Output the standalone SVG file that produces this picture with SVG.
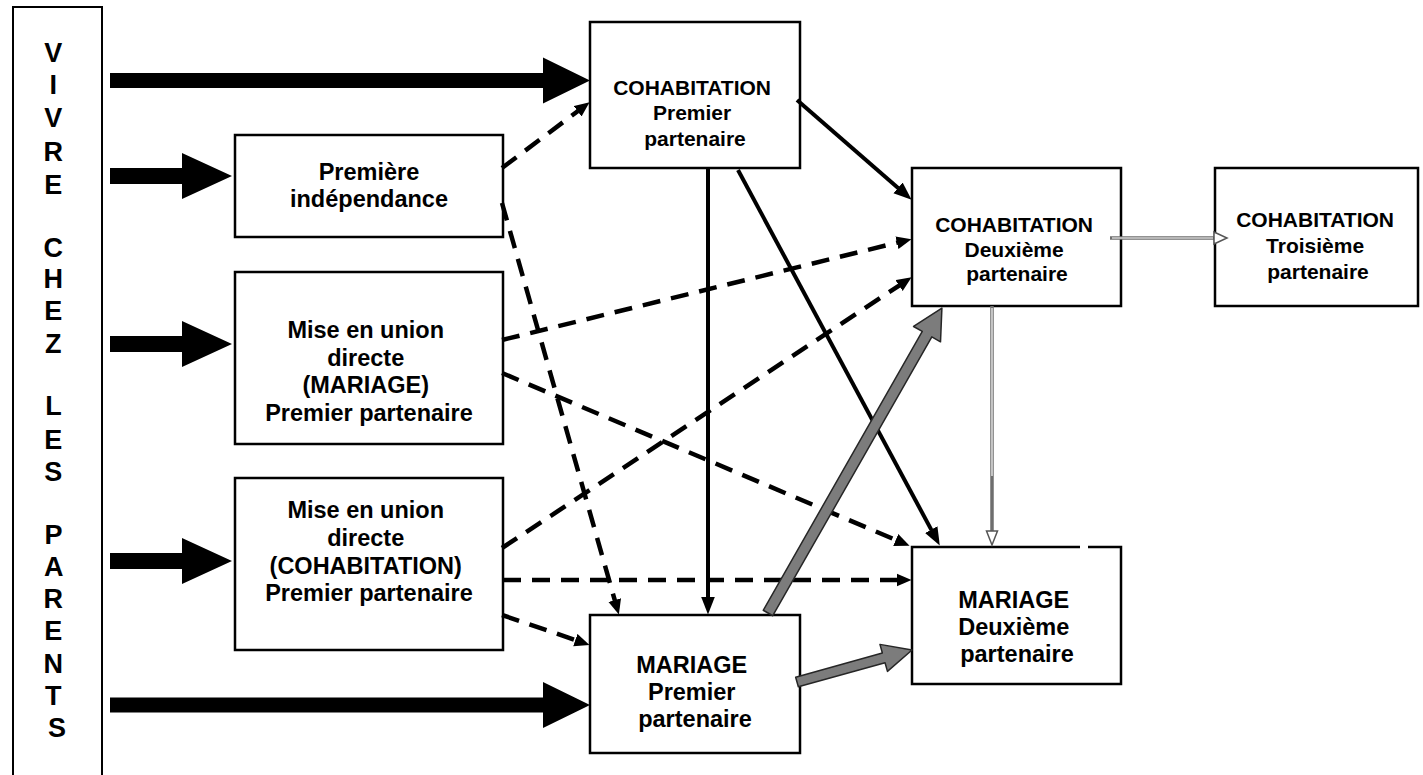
<svg xmlns="http://www.w3.org/2000/svg" width="1423" height="775" viewBox="0 0 1423 775">
  <style>
    .box { fill: #ffffff; stroke: #000000; stroke-width: 2.5; }
    .frame { fill: none; stroke: #000000; stroke-width: 2; }
    text { font-family: "Liberation Sans", Arial, Helvetica, sans-serif; font-weight: bold; fill: #000000; text-anchor: middle; }
    .big { font-size: 23.5px; }
    .mid { font-size: 21px; }
    .side { font-size: 27px; }
    .dash { fill: none; stroke: #000000; stroke-width: 4.5; stroke-dasharray: 18 11; marker-end: url(#headDash); }
    .solid { fill: none; stroke: #000000; stroke-width: 4; marker-end: url(#headSolid); }
    .fat { fill: #000000; }
    .grey { fill: #7c7c7c; stroke: #262626; stroke-width: 1.5; stroke-linejoin: round; }
    .thinOuter { fill: none; stroke: #6e6e6e; stroke-width: 3.5; }
    .thinInner { fill: none; stroke: #ffffff; stroke-width: 1.2; }
    .open { fill: #ffffff; stroke: #555555; stroke-width: 1.5; stroke-linejoin: miter; }
  </style>
  <defs>
    <marker id="headDash" markerUnits="userSpaceOnUse" viewBox="0 -7 16 14" markerWidth="16" markerHeight="14" refX="0.5" refY="0" orient="auto">
      <path d="M0,-6.5 L15,0 L0,6.5 Z" fill="#000000"/>
    </marker>
    <marker id="headSolid" markerUnits="userSpaceOnUse" viewBox="0 -8 19 16" markerWidth="19" markerHeight="16" refX="0.5" refY="0" orient="auto">
      <path d="M0,-7 L18,0 L0,7 Z" fill="#000000"/>
    </marker>
    <!-- block arrows leaving the parental home -->
    <path id="fatShort" d="M0,-8 H72 V-23 L122,0 L72,23 V8 H0 Z"/>
    <path id="fatLong" d="M0,-7.5 H433 V-23 L480,0 L433,23 V7.5 H0 Z"/>
  </defs>

  <rect width="1423" height="775" fill="#ffffff"/>

  <!-- nodes -->
  <g id="parents">
    <path class="frame" d="M13,775 V7 H102 V775"/>
    <text class="side">
      <tspan x="57" y="62">V</tspan>
      <tspan x="57" y="94">I</tspan>
      <tspan x="57" y="127">V</tspan>
      <tspan x="57" y="161">R</tspan>
      <tspan x="57" y="194">E</tspan>
      <tspan x="57" y="257">C</tspan>
      <tspan x="57" y="288">H</tspan>
      <tspan x="57" y="320">E</tspan>
      <tspan x="57" y="353">Z</tspan>
      <tspan x="57" y="415">L</tspan>
      <tspan x="57" y="449">E</tspan>
      <tspan x="57" y="481">S</tspan>
      <tspan x="57" y="544">P</tspan>
      <tspan x="57" y="576">A</tspan>
      <tspan x="57" y="608">R</tspan>
      <tspan x="57" y="640">E</tspan>
      <tspan x="57" y="673">N</tspan>
      <tspan x="57" y="705">T</tspan>
      <tspan x="57" y="737">S</tspan>
    </text>
  </g>

  <g id="independance">
    <rect class="box" x="235" y="135" width="268" height="102"/>
    <text class="big"><tspan x="369" y="180">Première</tspan><tspan x="369" y="207">indépendance</tspan></text>
  </g>

  <g id="union-mariage">
    <rect class="box" x="235" y="272" width="268" height="172"/>
    <text class="big">
      <tspan x="369" y="338">Mise en union</tspan>
      <tspan x="369" y="366">directe</tspan>
      <tspan x="369" y="393">(MARIAGE)</tspan>
      <tspan x="369" y="421">Premier partenaire</tspan>
    </text>
  </g>

  <g id="union-cohabitation">
    <rect class="box" x="235" y="478" width="268" height="172"/>
    <text class="big">
      <tspan x="369" y="518">Mise en union</tspan>
      <tspan x="369" y="546">directe</tspan>
      <tspan x="369" y="574">(COHABITATION)</tspan>
      <tspan x="369" y="601">Premier partenaire</tspan>
    </text>
  </g>

  <g id="cohab-1">
    <rect class="box" x="590" y="22" width="210" height="146"/>
    <text class="mid">
      <tspan x="695" y="95">COHABITATION</tspan>
      <tspan x="695" y="120">Premier</tspan>
      <tspan x="695" y="146">partenaire</tspan>
    </text>
  </g>

  <g id="mariage-1">
    <rect class="box" x="590" y="615" width="210" height="138"/>
    <text class="big">
      <tspan x="695" y="673">MARIAGE</tspan>
      <tspan x="695" y="700">Premier</tspan>
      <tspan x="695" y="727">partenaire</tspan>
    </text>
  </g>

  <g id="cohab-2">
    <rect class="box" x="912" y="168" width="209" height="138"/>
    <text class="mid">
      <tspan x="1017" y="232">COHABITATION</tspan>
      <tspan x="1017" y="257">Deuxième</tspan>
      <tspan x="1017" y="281">partenaire</tspan>
    </text>
  </g>

  <g id="mariage-2">
    <rect x="912" y="547" width="209" height="137" fill="#ffffff"/>
    <path class="box" fill="none" d="M1088,547 H1121 V684 H912 V547 H1080"/>
    <text class="big">
      <tspan x="1017" y="608">MARIAGE</tspan>
      <tspan x="1017" y="635">Deuxième</tspan>
      <tspan x="1017" y="662">partenaire</tspan>
    </text>
  </g>

  <g id="cohab-3">
    <rect class="box" x="1215" y="168" width="203" height="138"/>
    <text class="mid">
      <tspan x="1318" y="227">COHABITATION</tspan>
      <tspan x="1318" y="253">Troisième</tspan>
      <tspan x="1318" y="279">partenaire</tspan>
    </text>
  </g>

  <!-- connectors -->
  <g id="connectors">
    <!-- block arrows -->
    <use href="#fatLong" class="fat" transform="translate(110,80.5)"/>
    <use href="#fatShort" class="fat" transform="translate(110,176)"/>
    <use href="#fatShort" class="fat" transform="translate(110,344)"/>
    <use href="#fatShort" class="fat" transform="translate(110,561)"/>
    <use href="#fatLong" class="fat" transform="translate(110,705)"/>

    <!-- dashed transitions -->
    <line class="dash" x1="502" y1="168" x2="578" y2="111"/>
    <line class="dash" x1="502" y1="203" x2="614.9" y2="600.6"/>
    <line class="dash" x1="502" y1="340" x2="897.4" y2="242.6"/>
    <line class="dash" x1="502" y1="373" x2="896.2" y2="540.1"/>
    <line class="dash" x1="502" y1="548" x2="899.5" y2="285.3"/>
    <line class="dash" x1="503" y1="580" x2="897" y2="580"/>
    <line class="dash" x1="502" y1="615" x2="575.8" y2="640.2"/>

    <!-- solid transitions -->
    <line class="solid" x1="708" y1="168" x2="708" y2="597"/>
    <line class="solid" x1="797" y1="100" x2="898.4" y2="188.2"/>
    <line class="solid" x1="738" y1="170" x2="931.5" y2="530.1"/>

    <!-- grey transitions from first marriage -->
    <path class="grey" transform="translate(768,613) rotate(-60.3)" d="M0,-5.5 H321 V-15.5 L351,0 L321,15.5 V5.5 H0 Z"/>
    <path class="grey" transform="translate(797,682) rotate(-15.55)" d="M0,-5 H90 V-14 L119.4,0 L90,14 V5 H0 Z"/>

    <!-- thin double-line transitions -->
    <line class="thinOuter" x1="1110" y1="238" x2="1214" y2="238"/>
    <line class="thinInner" x1="1112" y1="238" x2="1213" y2="238"/>
    <polygon class="open" points="1214,232 1227,238 1214,244"/>
    <line class="thinOuter" x1="992" y1="306" x2="992" y2="531"/>
    <line class="thinInner" x1="992" y1="308" x2="992" y2="476"/>
    <polygon class="open" points="986.5,531 992,545 997.5,531"/>
  </g>
</svg>
